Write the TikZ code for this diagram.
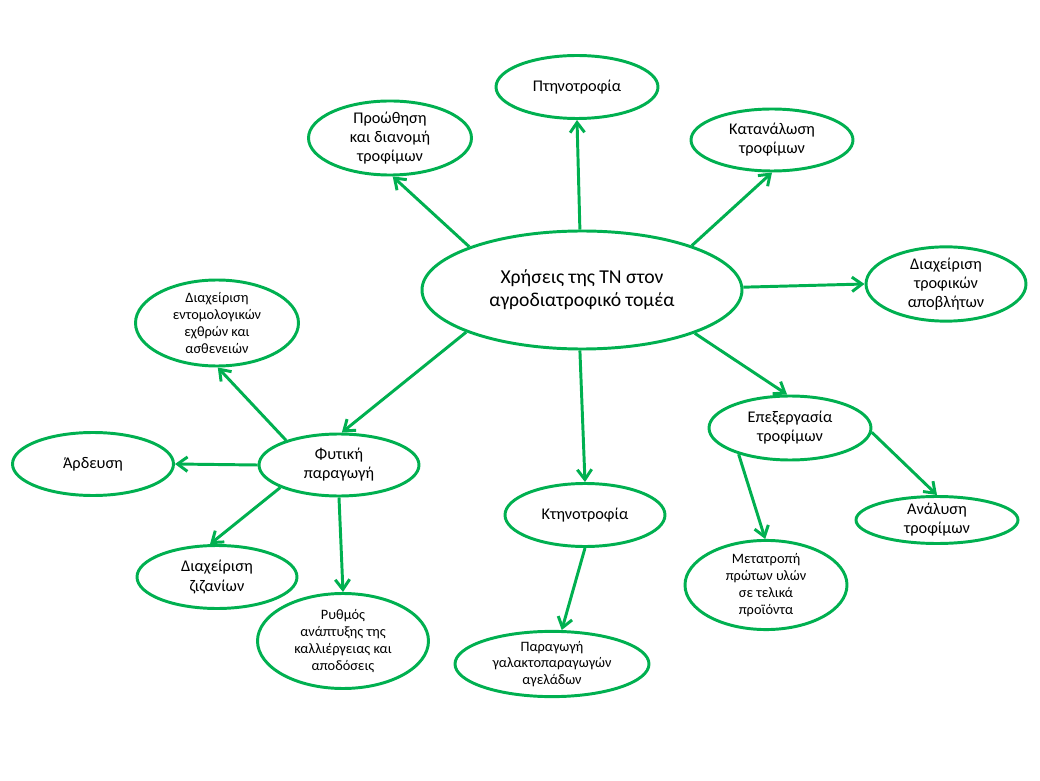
\documentclass[tikz,border=0pt]{standalone}
\usepackage{fontspec}
\setmainfont{Carlito}
\usetikzlibrary{shapes.geometric,arrows.meta}
\definecolor{leafgreen}{RGB}{0,176,80}

\begin{document}
\begin{tikzpicture}[
		bubble/.style={ellipse, draw=leafgreen, line width=2.1pt, inner sep=0pt, align=center, font=\fontsize{11.6}{13.6}\selectfont},
		bigtext/.style={font=\fontsize{14}{16.5}\selectfont},
		smalltext/.style={font=\fontsize{10.2}{12}\selectfont},
		usearrow/.style={draw=leafgreen, line width=2.1pt, -{Straight Barb[length=2.5mm,width=3.6mm]}}
	]
			%%%%% START %%%%%
			\useasboundingbox (0, 0) rectangle (26, 19.5);
			
			\node[bubble, bigtext, minimum width=8cm, minimum height=2.95cm] (hub) at (14.55, 12.25) {Χρήσεις της ΤΝ στον\\αγροδιατροφικό τομέα};
			
			\node[bubble, minimum width=4.05cm, minimum height=1.575cm] (poultry) at (14.425, 17.325) {Πτηνοτροφία};
			\node[bubble, minimum width=4.075cm, minimum height=1.55cm] (promo) at (9.75, 16.05) {Προώθηση\\και διανομή\\τροφίμων};
			\node[bubble, minimum width=4.05cm, minimum height=1.55cm] (consume) at (19.3, 16.0) {Κατανάλωση\\τροφίμων};
			\node[bubble, minimum width=4.0cm, minimum height=1.575cm] (waste) at (23.65, 12.4) {Διαχείριση\\τροφικών\\αποβλήτων};
			
			\node[bubble, minimum width=4.0cm, minimum height=1.55cm] (crops) at (8.475, 7.875) {Φυτική\\παραγωγή};
			\node[bubble, smalltext, minimum width=4.075cm, minimum height=1.95cm] (pests) at (5.425, 11.425) {Διαχείριση\\εντομολογικών\\εχθρών και\\ασθενειών};
			\node[bubble, minimum width=4.025cm, minimum height=1.575cm] (irrig) at (2.325, 7.9) {Άρδευση};
			\node[bubble, minimum width=4.0cm, minimum height=1.575cm] (weeds) at (5.425, 5.075) {Διαχείριση\\ζιζανίων};
			\node[bubble, smalltext, minimum width=4.275cm, minimum height=2.375cm] (growth) at (8.575, 3.475) {Ρυθμός\\ανάπτυξης της\\καλλιέργειας και\\αποδόσεις};
			
			\node[bubble, minimum width=4.0cm, minimum height=1.575cm] (livestock) at (14.625, 6.625) {Κτηνοτροφία};
			\node[bubble, smalltext, minimum width=4.85cm, minimum height=1.25cm] (dairy) at (13.8, 2.9) {Παραγωγή\\γαλακτοπαραγωγών\\αγελάδων};
			
			\node[bubble, minimum width=4.05cm, minimum height=1.6cm] (process) at (19.75, 8.8) {Επεξεργασία\\τροφίμων};
			\node[bubble, minimum width=4.05cm, minimum height=1.175cm] (analysis) at (23.425, 6.5) {Ανάλυση\\τροφίμων};
			\node[bubble, smalltext, minimum width=4.05cm, minimum height=2.025cm] (convert) at (19.15, 4.875) {Μετατροπή\\πρώτων υλών\\σε τελικά\\προϊόντα};
			
			\draw[usearrow] (hub.92) -- (poultry.270);
			\draw[usearrow] (hub.159) -- (promo.274);
			\draw[usearrow] (hub.22) -- (consume.270);
			\draw[usearrow] (hub.1) -- (waste.180);
			\draw[usearrow] (hub.339) -- (process.95);
			\draw[usearrow] (hub.268) -- (livestock.90);
			\draw[usearrow] (hub.200) -- (crops.85);
			
			\draw[usearrow] (crops.155) -- (pests.271);
			\draw[usearrow] (crops.180) -- (irrig.0);
			\draw[usearrow] (crops.201) -- (weeds.102);
			\draw[usearrow] (crops.270) -- (growth.90);
			
			\draw[usearrow] (livestock.270) -- (dairy.74);
			
			\draw[usearrow] (process.207) -- (convert.91);
			\draw[usearrow] (process.357) -- (analysis.90);
			%%%%% END %%%%%
		\end{tikzpicture}
\end{document}
